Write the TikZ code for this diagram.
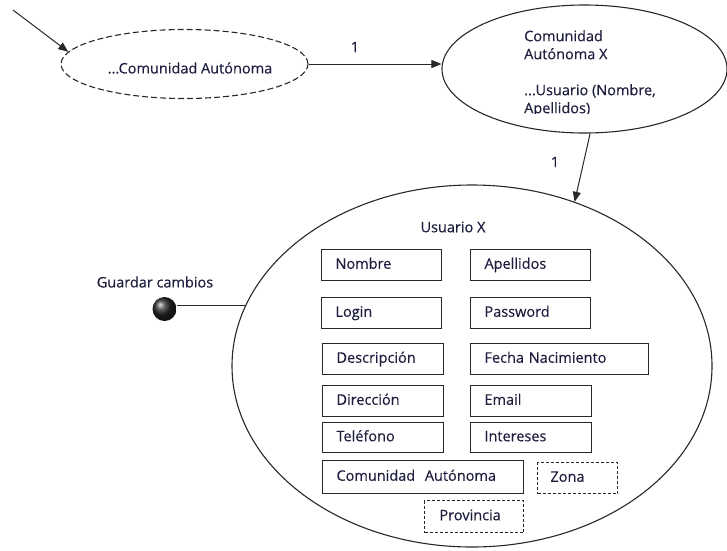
\documentclass[tikz,border=0pt]{standalone}
\usepackage{fontspec}
\newfontfamily\osf[FakeBold=0.35]{Open Sans}
\usetikzlibrary{shapes.geometric,arrows.meta}
\definecolor{txt}{RGB}{30,30,62}
\definecolor{ln}{RGB}{40,40,40}
\tikzset{
  every node/.style={font=\osf\fontsize{14.5}{18}\selectfont, text=txt},
  ell/.style={draw=ln, line width=1.1pt, ellipse, inner sep=0pt},
  arr/.style={draw=ln, line width=1pt, -{Triangle[length=10pt,width=8pt]}},
  box/.style={draw=ln, line width=1pt, rectangle, anchor=north west, inner xsep=14pt, inner ysep=0pt,
    text height=10.5pt, text depth=3pt, align=left},
  dbox/.style={box, dash pattern=on 3pt off 2pt},
}
\begin{document}
\begin{tikzpicture}[x=1pt,y=-1pt]
\useasboundingbox (0,0) rectangle (727,550);
% ellipses
\node[ell, dash pattern=on 6pt off 3pt, minimum width=247pt, minimum height=69pt] (e1) at (184.5,64) {};
\node at (190,68) (e1t) {...Comunidad Autónoma};
\node[ell, minimum width=285pt, minimum height=128pt] (e2) at (584.5,69) {};
\begin{scope}
\clip (440,0) rectangle (727,113.5);
\node[anchor=north west, inner sep=0pt, align=left] (e2t) at (524,30) {Comunidad\\Autónoma X\\[18pt]...Usuario (Nombre,\\Apellidos)};
\end{scope}
\node[ell, minimum width=480pt, minimum height=362pt] (e3) at (472,366) {};
\node (e3t) at (453,227) {Usuario X};
% connectors
\coordinate (s) at (13,10);
\draw[arr] (s) -- (e1.174);
\draw[arr] (e1.east) -- (e1.east -| e2.west);
\node (l1) at (355,47) {1};
\draw[arr] (e2.275) -- (e3.58);
\node (l2) at (555,162) {1};
% guardar cambios
\node[circle, minimum size=24pt, inner sep=0pt, shading=ball, ball color=black!85] (ball) at (164.5,309) {};
\node (gc) at (155,282) {Guardar cambios};
\draw[ln, line width=1pt] (e3.165) -- (e3.165 -| ball.east);
% boxes
\node[box, text width=92pt, minimum height=31pt] (nombre) at (321,249) {Nombre};
\node[box, text width=92pt, minimum height=31pt] (apellidos) at (470,249) {Apellidos};
\node[box, text width=92pt, minimum height=31pt] (login) at (321,297) {Login};
\node[box, text width=92pt, minimum height=31pt] (password) at (470,297) {Password};
\node[box, text width=93pt, minimum height=31pt] (desc) at (322,343) {Descripción};
\node[box, text width=150pt, minimum height=31pt] (fecha) at (470,343) {Fecha Nacimiento};
\node[box, text width=93pt, minimum height=31pt] (dir) at (322,385) {Dirección};
\node[box, text width=93pt, minimum height=31pt] (email) at (470,385) {Email};
\node[box, text width=93pt, minimum height=30pt] (tel) at (322,422) {Teléfono};
\node[box, text width=93pt, minimum height=30pt] (int) at (470,422) {Intereses};
\node[box, text width=173pt, minimum height=33pt] (ca) at (322,460) {Comunidad\ \ Autónoma};
\node[dbox, inner xsep=13pt, text width=54pt, minimum height=31pt] (zona) at (537,462) {Zona};
\node[dbox, inner xsep=15pt, text width=69pt, minimum height=32pt] (prov) at (424,500) {Provincia};
\end{tikzpicture}
\end{document}
